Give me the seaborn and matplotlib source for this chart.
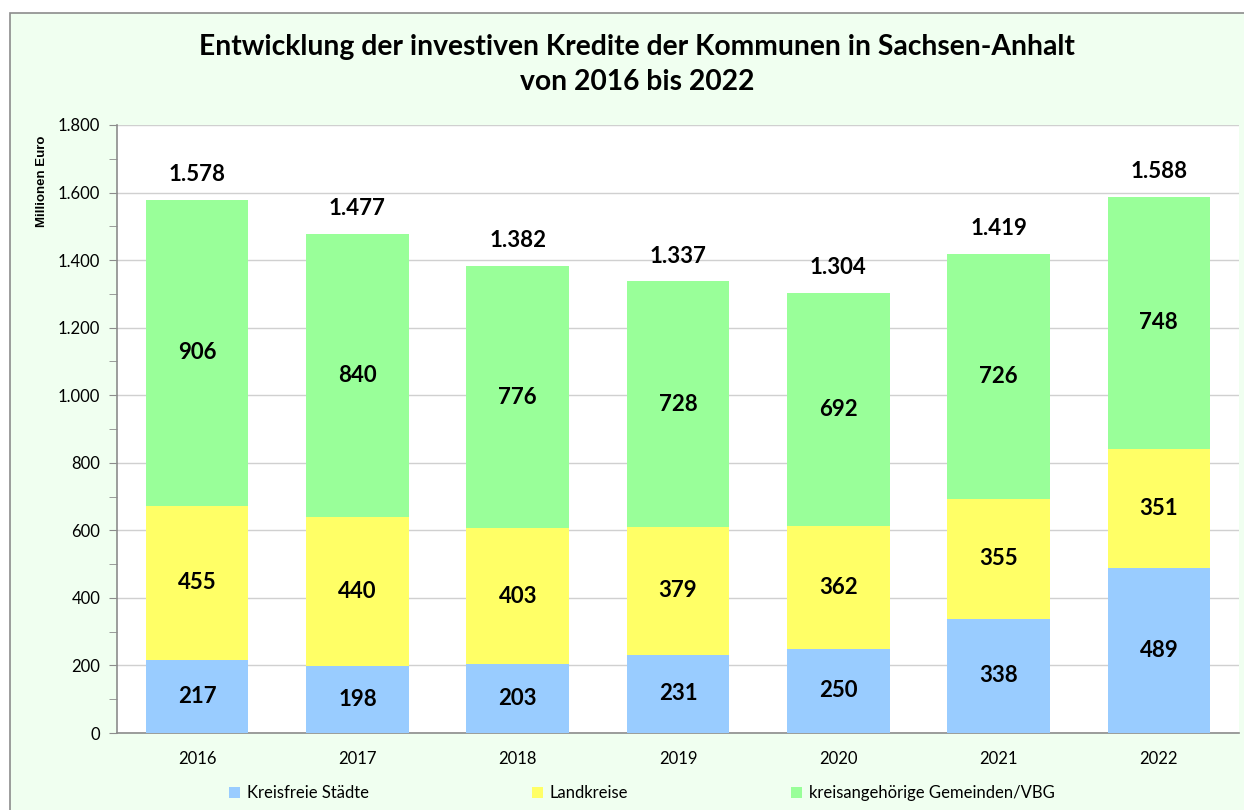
import pandas as pd
import matplotlib.pyplot as plt
import matplotlib.ticker as mticker
from matplotlib.patches import Rectangle
import seaborn as sns

# Values (Millionen Euro)
years = ["2016", "2017", "2018", "2019", "2020", "2021", "2022"]
kreisfreie_staedte = [217, 198, 203, 231, 250, 338, 489]
landkreise = [455, 440, 403, 379, 362, 355, 351]
gemeinden_vbg = [906, 840, 776, 728, 692, 726, 748]
totals = [1578, 1477, 1382, 1337, 1304, 1419, 1588]

series_names = ["Kreisfreie Städte", "Landkreise", "kreisangehörige Gemeinden/VBG"]
colors = ["#99CCFF", "#FFFF66", "#99FF99"]


def fmt_de(v):
    return f"{v:,.0f}".replace(",", ".")


def make_chart():
    df = pd.DataFrame({
        "Jahr": years,
        "KS": kreisfreie_staedte,
        "LK": landkreise,
        "GV": gemeinden_vbg,
    })
    df["KS_top"] = df["KS"]
    df["LK_top"] = df["KS"] + df["LK"]
    df["GV_top"] = df["KS"] + df["LK"] + df["GV"]

    sns.set_style("white")
    plt.rcParams["font.family"] = ["Lato", "DejaVu Sans"]
    plt.rcParams["text.color"] = "black"
    plt.rcParams["xtick.color"] = "black"
    plt.rcParams["ytick.color"] = "black"

    fig = plt.figure(figsize=(12.44, 8.1), dpi=100)
    fig.patch.set_facecolor("white")
    # light green chart area with grey frame
    frame = Rectangle((10 / 1244, -0.05), 1.2, 1 - 13 / 810 + 0.05,
                      transform=fig.transFigure, facecolor="#F0FFF0",
                      edgecolor="#8C8C8C", linewidth=1.2, zorder=-10)
    fig.patches.append(frame)

    ax = fig.add_axes([117 / 1244, 77 / 810, (1239 - 117) / 1244, (733 - 125) / 810])
    ax.set_facecolor("white")

    # stacked bars drawn as cumulative heights, largest first
    for col, color in zip(["GV_top", "LK_top", "KS_top"], colors[::-1]):
        sns.barplot(data=df, x="Jahr", y=col, color=color, width=0.64,
                    saturation=1, ax=ax, zorder=3, edgecolor="none")

    # segment labels
    for i in range(len(years)):
        ks, lk, gv = kreisfreie_staedte[i], landkreise[i], gemeinden_vbg[i]
        for val, mid in [(ks, ks / 2), (lk, ks + lk / 2), (gv, ks + lk + gv / 2)]:
            ax.text(i, mid, fmt_de(val), ha="center", va="center",
                    fontsize=16, fontweight="bold", color="black", zorder=5)
        ax.text(i, totals[i] + 75, fmt_de(totals[i]), ha="center", va="center",
                fontsize=16, fontweight="bold", color="black", zorder=5)

    ax.set_ylim(0, 1800)
    ax.set_xlim(-0.5, 6.5)
    ax.yaxis.set_major_locator(mticker.MultipleLocator(200))
    ax.yaxis.set_minor_locator(mticker.MultipleLocator(100))
    ax.yaxis.set_major_formatter(mticker.FuncFormatter(lambda v, p: fmt_de(v)))
    ax.grid(axis="y", which="major", color="#D0D0D0", linewidth=1, zorder=0)
    ax.set_axisbelow(True)

    for s in ["top", "right"]:
        ax.spines[s].set_visible(False)
    for s in ["left", "bottom"]:
        ax.spines[s].set_color("#8C8C8C")
        ax.spines[s].set_linewidth(1.2)

    ax.tick_params(axis="y", which="both", direction="out", length=6,
                   color="#8C8C8C", labelsize=12, pad=6, left=True,
                   labelcolor="black")
    ax.tick_params(axis="x", length=0, labelsize=12, pad=13, labelcolor="black")
    ax.set_xlabel("")
    ax.set_ylabel("")

    fig.text(42 / 1244, 1 - 181 / 810, "Millionen Euro", rotation=90,
             ha="center", va="center", fontsize=9.5, fontweight="bold",
             family=["Liberation Sans", "DejaVu Sans"])

    fig.text(637 / 1244, 1 - 47 / 810,
             "Entwicklung der investiven Kredite der Kommunen in Sachsen-Anhalt",
             ha="center", va="center", fontsize=20.3, fontweight="bold")
    fig.text(637 / 1244, 1 - 82 / 810, "von 2016 bis 2022",
             ha="center", va="center", fontsize=20.3, fontweight="bold")

    handles = [Rectangle((0, 0), 1, 1, facecolor=c, edgecolor="none") for c in colors]
    fig.legend(handles, series_names, loc="center", ncol=3,
               bbox_to_anchor=(642 / 1244, 1 - 793 / 810), frameon=False,
               fontsize=12, handlelength=0.65, handleheight=0.65,
               handletextpad=0.4, columnspacing=9.8)

    fig.savefig("out.png", dpi=100, facecolor=fig.get_facecolor())
    plt.close(fig)


if __name__ == "__main__":
    make_chart()
